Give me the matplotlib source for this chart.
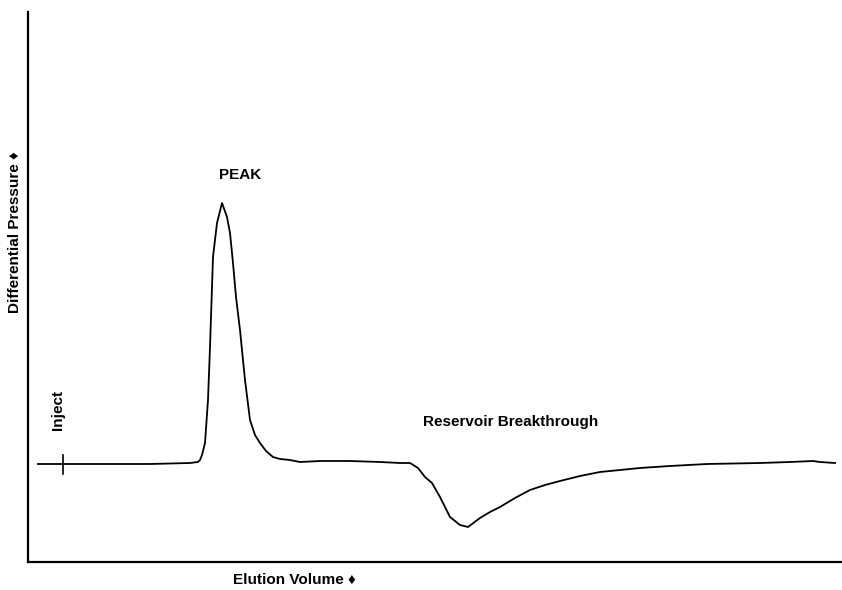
import matplotlib.pyplot as plt

# trace (elution volume, differential pressure), arbitrary units
volume = [10, 32, 72, 122, 162, 170, 172, 174, 177, 180, 182, 185, 189, 194, 199,
          202, 205, 208, 212, 217, 222, 227, 232, 238, 245, 252, 262, 272, 292, 322,
          352, 372, 382, 390, 397, 404, 412, 422, 432, 440, 452, 462, 472, 487, 502,
          517, 532, 552, 572, 592, 612, 642, 679, 732, 762, 785, 792, 807]
pressure = [98, 98, 98, 98, 99, 100, 102, 107, 119, 162, 215, 305, 339, 359, 345,
            329, 299, 265, 232, 182, 142, 127, 119, 111, 105, 103, 102, 100, 101, 101,
            100, 99, 99, 94, 85, 79, 65, 45, 37, 35, 44, 50, 55, 64, 72,
            77, 81, 86, 90, 92, 94, 96, 98, 99, 100, 101, 100, 99]

inject_x = 35
inject_span = (88, 107)

plt.rcParams['font.family'] = ['Liberation Sans', 'DejaVu Sans']

fig = plt.figure(figsize=(8.42, 5.90), dpi=100)
ax = fig.add_axes([28 / 842, 1 - 562 / 590, 1 - 28 / 842, 550 / 590])

ax.plot(volume, pressure, color='black', lw=1.3)
ax.plot([inject_x, inject_x], inject_span, color='black', lw=1.2)

ax.set_xlim(0, 814)
ax.set_ylim(0, 550)
ax.spines['top'].set_visible(False)
ax.spines['right'].set_visible(False)
ax.spines['left'].set_linewidth(1.6)
ax.spines['bottom'].set_linewidth(1.6)
ax.set_xticks([])
ax.set_yticks([])

ax.text(212, 387, 'PEAK', ha='center', va='center', fontsize=11, fontweight='bold')
ax.text(483, 140, 'Reservoir Breakthrough', ha='center', va='center', fontsize=11, fontweight='bold')
ax.text(30, 152, 'Inject', ha='center', va='center', rotation=90, fontsize=11, fontweight='bold')

fig.text(15 / 842, 1 - 232 / 590, 'Differential Pressure \u2666', rotation=90,
         ha='center', va='center', fontsize=11, fontweight='bold',
         family=['Liberation Sans', 'DejaVu Sans'])
fig.text(294 / 842, 1 - 580 / 590, 'Elution Volume \u2666', ha='center', va='center',
         fontsize=11, fontweight='bold', family=['Liberation Sans', 'DejaVu Sans'])

fig.savefig('out.png', dpi=100)
